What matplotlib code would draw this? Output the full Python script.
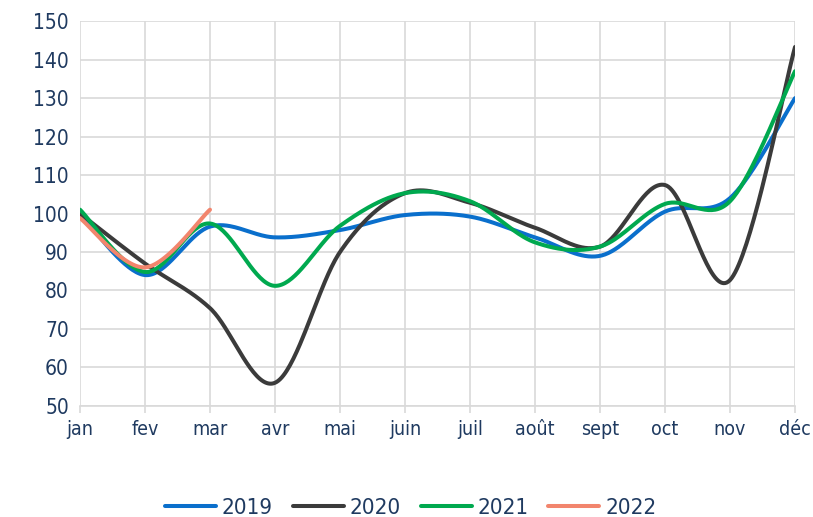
import numpy as np
import matplotlib
matplotlib.use("Agg")
import matplotlib.pyplot as plt

plt.rcParams['font.family'] = ['Liberation Sans Narrow', 'DejaVu Sans']
plt.rcParams['font.stretch'] = 'condensed'

# Données
mois = ['jan', 'fev', 'mar', 'avr', 'mai', 'juin', 'juil', 'août', 'sept', 'oct', 'nov', 'déc']
v2019 = [100, 84, 96.6, 93.8, 95.7, 99.6, 99.2, 93.8, 89, 100.5, 104, 130]
v2020 = [100, 87, 75.4, 56, 90, 105.3, 102.8, 96.3, 91.4, 107.4, 82.7, 143.3]
v2021 = [101, 84.8, 97.4, 81.2, 96.8, 105.3, 103.2, 92.5, 91.4, 102.5, 103.2, 137]
v2022 = [98.8, 86, 101]

series = [('2019', v2019, '#0A6FCC'),
          ('2020', v2020, '#3B3B3B'),
          ('2021', v2021, '#00A94F'),
          ('2022', v2022, '#F2856D')]


def lissage(y, n=40):
    # courbe lissée façon Excel (Catmull-Rom / Bézier)
    y = np.asarray(y, dtype=float)
    x = np.arange(len(y), dtype=float)
    pts = np.column_stack([x, y])
    out = []
    for i in range(len(pts) - 1):
        p0 = pts[i - 1] if i > 0 else pts[i]
        p1 = pts[i]
        p2 = pts[i + 1]
        p3 = pts[i + 2] if i + 2 < len(pts) else pts[i + 1]
        c1 = p1 + (p2 - p0) / 6
        c2 = p2 - (p3 - p1) / 6
        t = np.linspace(0, 1, n)[:, None]
        seg = ((1 - t) ** 3) * p1 + 3 * ((1 - t) ** 2) * t * c1 + 3 * (1 - t) * t ** 2 * c2 + t ** 3 * p2
        out.append(seg if i == 0 else seg[1:])
    seg = np.vstack(out)
    return seg[:, 0], seg[:, 1]


fig = plt.figure(figsize=(8.13, 5.17), dpi=100)
ax = fig.add_axes([0.0984, 0.215, 0.8795, 0.744])

for nom, vals, col in series:
    xs, ys = lissage(vals)
    ax.plot(xs, ys, color=col, lw=2.9, label=nom, solid_capstyle='round')

ax.set_xlim(0, len(mois) - 1)
ax.set_ylim(50, 150)
ax.set_yticks(range(50, 151, 10))
ax.set_xticks(range(len(mois)))
ax.set_xticklabels(mois)
ax.grid(True, color='#D9D9D9', lw=1.2)
ax.set_axisbelow(True)
for s in ['top', 'right', 'left']:
    ax.spines[s].set_visible(False)
ax.spines['bottom'].set_color('#D9D9D9')
ax.spines['bottom'].set_linewidth(1.2)
ax.tick_params(axis='y', length=0, labelsize=15, labelcolor='#1F3A60', pad=8)
ax.tick_params(axis='x', length=5, color='#D9D9D9', width=1.2, labelsize=14,
               labelcolor='#1F3A60', pad=5)

fig.legend(loc='center', bbox_to_anchor=(0.505, 0.018), ncol=4, frameon=False,
           fontsize=16, labelcolor='#1F3A60', handlelength=2.3, columnspacing=0.9,
           handletextpad=0.25)

fig.savefig('out.png', dpi=100)
